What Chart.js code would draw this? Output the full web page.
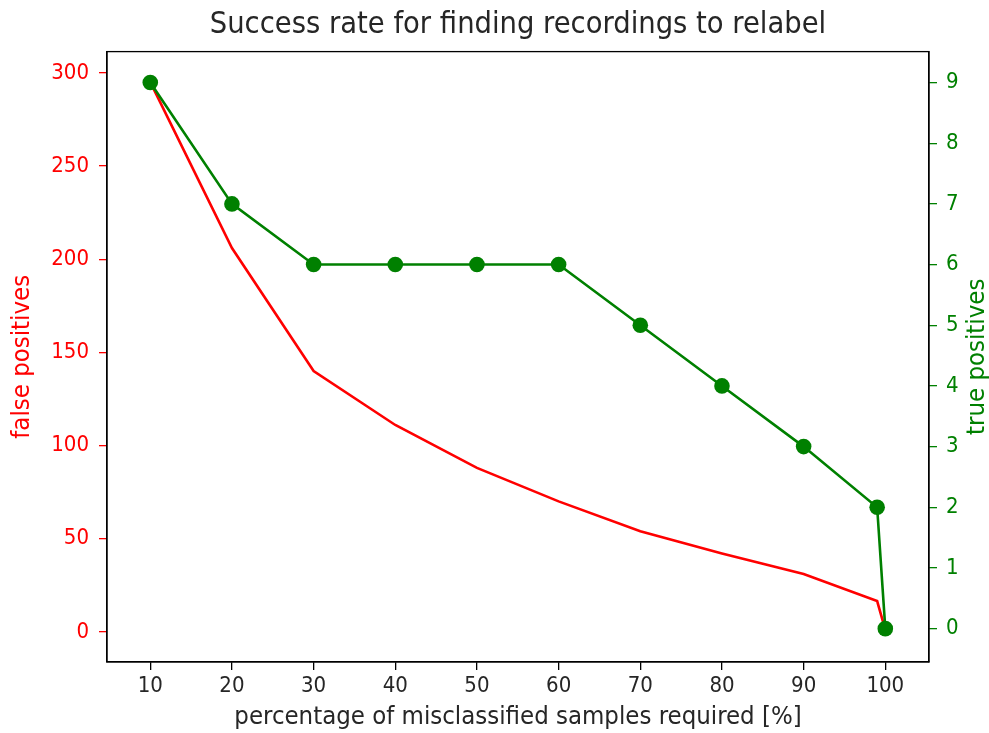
<!DOCTYPE html>
<html>
<head>
<meta charset="utf-8">
<script src="https://cdn.jsdelivr.net/npm/chart.js@4"></script>
<style>
    body { margin: 0; background: #ffffff; }
    #wrap { width: 989px; height: 733px; }
</style>
</head>
<body>
<div id="wrap"><canvas id="chart"></canvas></div>
<script>
// Data
const percentRequired = [10, 20, 30, 40, 50, 60, 70, 80, 90, 99, 100];
const falsePositives  = [295, 206, 140, 111, 88, 70, 54, 42, 31, 16.5, 1];
const truePositives   = [9, 7, 6, 6, 6, 6, 5, 4, 3, 2, 0];

const xTicks     = [10, 20, 30, 40, 50, 60, 70, 80, 90, 100];
const leftTicks  = [0, 50, 100, 150, 200, 250, 300];
const rightTicks = [0, 1, 2, 3, 4, 5, 6, 7, 8, 9];

const RED = '#ff0000';
const GREEN = '#008000';
const TEXT = '#262626';
const FONT = "'DejaVu Sans Condensed', 'DejaVu Sans', sans-serif";
const TICK_SIZE = 22;
const LABEL_SIZE = 25.5;

function toPoints(ys) {
    return percentRequired.map((x, i) => ({ x: x, y: ys[i] }));
}

function fixedTicks(values) {
    return (scale) => { scale.ticks = values.map(v => ({ value: v })); };
}

// frame around the plot area + right axis label reading bottom-to-top
const framePlugin = {
    id: 'frame',
    afterDraw(chart) {
        const { ctx, chartArea: a } = chart;
        ctx.save();
        ctx.strokeStyle = '#000000';
        ctx.lineWidth = 1.3;
        ctx.strokeRect(a.left, a.top, a.right - a.left, a.bottom - a.top);

        ctx.translate(977, (a.top + a.bottom) / 2);
        ctx.rotate(-Math.PI / 2);
        ctx.fillStyle = GREEN;
        ctx.font = LABEL_SIZE + 'px ' + FONT;
        ctx.textAlign = 'center';
        ctx.textBaseline = 'middle';
        ctx.fillText('true positives', 0, 0);
        ctx.restore();
    }
};

function initChart() {
    const ctx = document.getElementById('chart').getContext('2d');
    Chart.defaults.font.family = FONT;

    new Chart(ctx, {
        type: 'line',
        data: {
            datasets: [
                {
                    label: 'true positives',
                    data: toPoints(truePositives),
                    yAxisID: 'y1',
                    borderColor: GREEN,
                    backgroundColor: GREEN,
                    borderWidth: 2.6,
                    pointRadius: 7.8,
                    pointBorderWidth: 0,
                    pointBackgroundColor: GREEN,
                    tension: 0,
                    order: 0
                },
                {
                    label: 'false positives',
                    data: toPoints(falsePositives),
                    yAxisID: 'y',
                    borderColor: RED,
                    backgroundColor: RED,
                    borderWidth: 2.6,
                    pointRadius: 0,
                    tension: 0,
                    order: 1
                }
            ]
        },
        options: {
            responsive: true,
            maintainAspectRatio: false,
            animation: false,
            layout: { padding: 0 },
            plugins: {
                legend: { display: false },
                tooltip: { enabled: false },
                title: {
                    display: true,
                    fullSize: false,   // centre over the plot area like matplotlib
                    text: 'Success rate for finding recordings to relabel',
                    color: TEXT,
                    font: { size: 30.5, weight: 'normal' },
                    padding: { top: 7, bottom: 8 }
                }
            },
            scales: {
                x: {
                    type: 'linear',
                    min: 4.7,
                    max: 105.35,
                    afterBuildTicks: fixedTicks(xTicks),
                    afterFit: (s) => { s.height = 71; },
                    grid: { drawOnChartArea: false, color: '#000000', tickLength: 8, lineWidth: 1.3 },
                    border: { color: '#000000', width: 1.3 },
                    ticks: { color: TEXT, font: { size: TICK_SIZE }, padding: 3, maxRotation: 0 },
                    title: {
                        display: true,
                        text: 'percentage of misclassified samples required [%]',
                        color: TEXT,
                        font: { size: LABEL_SIZE },
                        padding: { top: 0, bottom: 0 }
                    }
                },
                y: {
                    type: 'linear',
                    position: 'left',
                    min: -16.2,
                    max: 311.4,
                    afterBuildTicks: fixedTicks(leftTicks),
                    afterFit: (s) => { s.width = 107; },
                    grid: { drawOnChartArea: false, color: RED, tickLength: 8, lineWidth: 1.3 },
                    border: { color: '#000000', width: 1.3 },
                    ticks: { color: RED, font: { size: TICK_SIZE }, padding: 10 },
                    title: {
                        display: true,
                        text: 'false positives',
                        color: RED,
                        font: { size: LABEL_SIZE },
                        padding: { top: 7, bottom: 0 }
                    }
                },
                y1: {
                    type: 'linear',
                    position: 'right',
                    min: -0.55,
                    max: 9.51,
                    afterBuildTicks: fixedTicks(rightTicks),
                    afterFit: (s) => { s.width = 60; },
                    grid: { drawOnChartArea: false, color: GREEN, tickLength: 8, lineWidth: 1.3 },
                    border: { color: '#000000', width: 1.3 },
                    ticks: { color: GREEN, font: { size: TICK_SIZE }, padding: 9 }
                }
            }
        },
        plugins: [framePlugin]
    });
}

document.addEventListener('DOMContentLoaded', initChart);
</script>
</body>
</html>
